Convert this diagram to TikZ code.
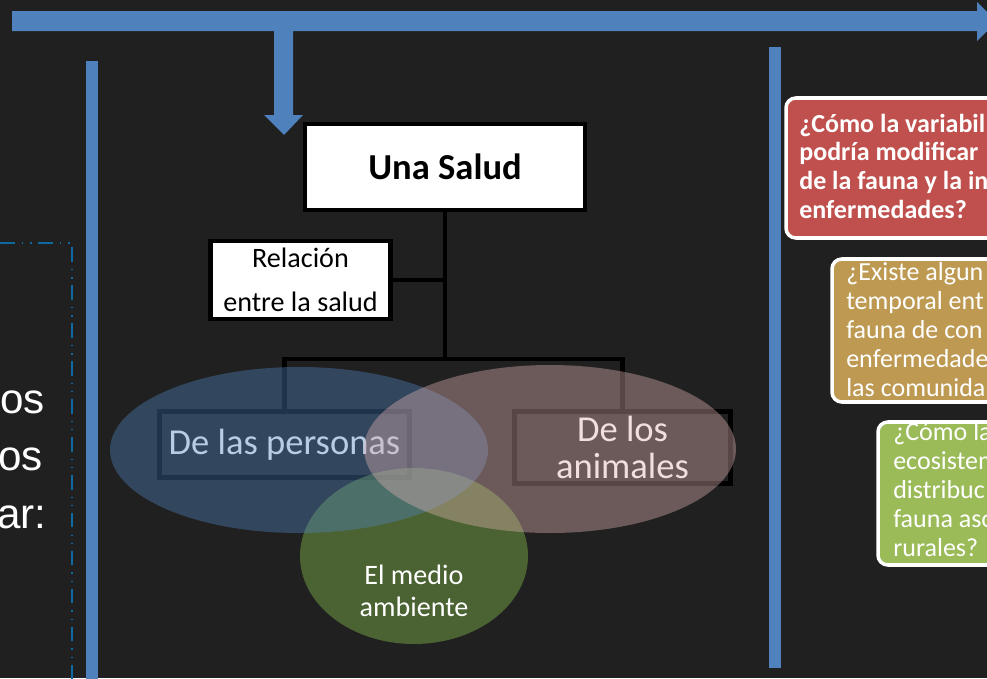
\documentclass[tikz,border=0pt]{standalone}
\usepackage{fontspec}
\setmainfont{Carlito}
\newfontfamily\arialfont{Liberation Sans}
\usetikzlibrary{calc}

\definecolor{bgdark}{RGB}{32,32,32}
\definecolor{barblue}{RGB}{79,129,189}
\definecolor{dashblue}{RGB}{16,104,160}
\definecolor{vennrose}{RGB}{222,177,177}
\definecolor{venngreen}{RGB}{118,166,68}
\definecolor{qred}{RGB}{192,80,77}
\definecolor{qgold}{RGB}{190,153,82}
\definecolor{qgreen}{RGB}{155,187,89}

\begin{document}
\begin{tikzpicture}[x=0.025cm, y=-0.025cm,
	orgbox/.style={draw=black, line width=3.2pt, fill=white, inner sep=0pt},
	vennbox/.style={draw=black, line width=3.6pt, inner sep=0pt, text=white},
	link/.style={line width=3.5pt},
	qframe/.style={draw=white, line width=2.5pt, rounded corners=7pt},
	qtext/.style={text=white, align=left, anchor=base west, inner sep=0pt},
	lefttext/.style={text=white, anchor=base east, inner sep=0pt, font=\arialfont\fontsize{30}{40}\selectfont}]
	\useasboundingbox (0,0) rectangle (987,678);
	\clip (0,0) rectangle (987,678);
	\fill [bgdark] (0,0) rectangle (987,678);

	% blue arrows and bars
	\fill [barblue] (12,11) -- (977,11) -- (977,2) -- (997,21.5) -- (977,41) -- (977,31) -- (12,31) -- cycle;
	\fill [barblue] (274,31) -- (293,31) -- (293,115) -- (303,115) -- (284,135) -- (264,115) -- (274,115) -- cycle;
	\fill [barblue] (86,61) rectangle (98,680);
	\fill [barblue] (769,47) rectangle (781,668);

	% left part
	\draw [dashblue, line width=1.1pt, dash pattern=on 10.5pt off 5pt on 1pt off 5pt on 1pt off 4.5pt] (0,243) -- (72,243) -- (72,690);
	\node [lefttext] (os1) at (45,413) {os};
	\node [lefttext] (os2) at (43,470) {os};
	\node [lefttext] (ar) at (47,528) {ar:};

	% tree
	\node [orgbox, minimum width=7cm, minimum height=2.15cm, font=\bfseries\fontsize{26}{26}\selectfont] (salud) at (445,167) {Una Salud};
	\node [orgbox, minimum width=4.5cm, minimum height=1.95cm, align=center, font=\fontsize{20}{31}\selectfont] (rel) at (300.5,280) {Relación\\entre la salud};
	\node [vennbox, minimum width=6.25cm, minimum height=1.65cm, font=\fontsize{26}{26}\selectfont] (personas) at (284.5,444.5) {De las personas};
	\node [vennbox, minimum width=5.4cm, minimum height=1.8cm, align=center, font=\fontsize{26}{26}\selectfont] (animales) at (622.5,447.5) {De los\\animales};
	\coordinate (split) at (445,359);
	\draw [link] (salud.south) -- (split);
	\draw [link] (rel.east) -- (rel.east -| salud.south);
	\draw [link] (personas.north) |- (split) -| (animales.north);

	% venn
	\fill [venngreen, fill opacity=0.5] (414,556) ellipse [x radius=114, y radius=88];
	\fill [barblue, fill opacity=0.4] (299,450) ellipse [x radius=189, y radius=83];
	\fill [vennrose, fill opacity=0.4] (550,449) ellipse [x radius=186, y radius=84];
	\node [text=white, align=center, inner sep=0pt, font=\fontsize{20}{23}\selectfont] (medio) at (414,591) {El medio\\ambiente};

	% questions
	\draw [qframe, fill=qred] (786,98) rectangle (1150,238);
	\node [qtext, font=\bfseries\fontsize{18.5}{20.3}\selectfont] (q1) at (799,218) {¿Cómo la variabil\\podría modificar\\de la fauna y la in\\enfermedades?};
	\draw [qframe, fill=qgold] (832,259) rectangle (1150,402);
	\node [qtext, font=\fontsize{18.5}{20.6}\selectfont] (q2) at (846,396) {¿Existe algun\\temporal ent\\fauna de con\\enfermedade\\las comunida};
	\draw [qframe, fill=qgreen] (878,422) rectangle (1150,565);
	\node [qtext, font=\fontsize{18.5}{20.6}\selectfont] (q3) at (893,556) {¿Cómo la\\ecosistem\\distribuc\\fauna aso\\rurales?};
\end{tikzpicture}
\end{document}
